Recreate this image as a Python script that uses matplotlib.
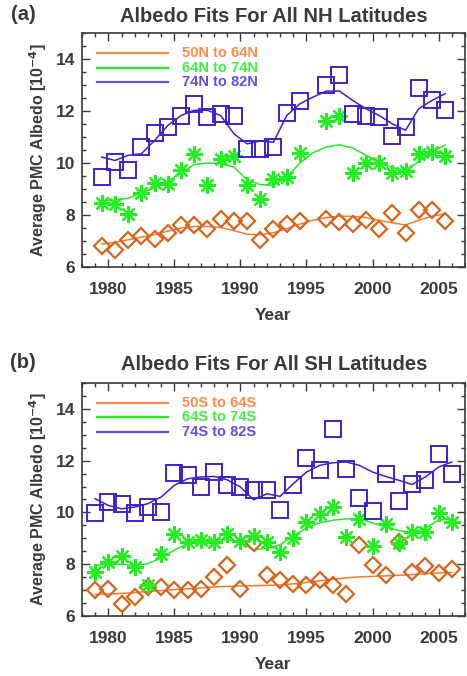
import numpy as np
import matplotlib
matplotlib.use('Agg')
import matplotlib.pyplot as plt
from matplotlib.ticker import MultipleLocator

plt.rcParams['font.family'] = ['Liberation Sans', 'DejaVu Sans']
plt.rcParams['font.weight'] = 'bold'
plt.rcParams['axes.labelweight'] = 'bold'
plt.rcParams['mathtext.default'] = 'bf'

TXT = '#3a3a3a'
ORANGE_M = '#d8651c'
ORANGE_L = '#ff7a2e'
ORANGE_T = '#ff8a4a'
GREEN = '#22ee22'
GREEN_T = '#44ee44'
BLUE = '#3a22cc'
BLUE_T = '#6a4ae8'

### NH data (points plotted mid-year, 1995 missing)
nh_years = [1979.5, 1980.5, 1981.5, 1982.5, 1983.5, 1984.5, 1985.5, 1986.5, 1987.5,
            1988.5, 1989.5, 1990.5, 1991.5, 1992.5, 1993.5, 1994.5, 1996.5, 1997.5,
            1998.5, 1999.5, 2000.5, 2001.5, 2002.5, 2003.5, 2004.5, 2005.5]
nh_low = [6.80, 6.67, 7.05, 7.18, 7.09, 7.31, 7.62, 7.62, 7.46, 7.83, 7.77, 7.77, 7.05,
          7.47, 7.64, 7.77, 7.86, 7.73, 7.67, 7.82, 7.47, 8.08, 7.31, 8.21, 8.21, 7.79]
nh_mid = [8.47, 8.41, 8.05, 8.85, 9.24, 9.21, 9.74, 10.36, 9.14, 10.14, 10.26, 9.14, 8.63,
          9.37, 9.46, 10.38, 11.62, 11.83, 9.63, 10.01, 10.01, 9.63, 9.69, 10.33, 10.42, 10.27]
nh_high = [9.46, 10.05, 9.72, 10.62, 11.15, 11.38, 11.81, 12.28, 11.77, 11.90, 11.81, 10.55,
           10.55, 10.62, 11.94, 12.37, 13.01, 13.37, 11.87, 11.83, 11.77, 11.06, 11.38,
           12.90, 12.44, 12.05]

nh_fit_years = [1979.5, 1980.5, 1981.5, 1982.5, 1983.5, 1984.5, 1985.5, 1986.5, 1987.5,
                1988.5, 1989.5, 1990.5, 1991.5, 1992.5, 1993.5, 1994.5, 1995.5, 1996.5,
                1997.5, 1998.5, 1999.5, 2000.5, 2001.5, 2002.5, 2003.5, 2004.5, 2005.5]
nh_low_fit = [6.88, 6.95, 7.05, 7.15, 7.25, 7.38, 7.50, 7.56, 7.56, 7.52, 7.40, 7.26, 7.24,
              7.32, 7.48, 7.65, 7.80, 7.90, 7.95, 7.95, 7.90, 7.80, 7.70, 7.62, 7.80, 7.95, 8.05]
nh_mid_fit = [8.55, 8.58, 8.65, 8.85, 9.05, 9.30, 9.62, 9.95, 10.00, 9.98, 9.85, 9.35, 9.17,
              9.15, 9.45, 10.00, 10.40, 10.62, 10.70, 10.58, 10.30, 10.00, 9.82, 9.72, 10.05,
              10.42, 10.70]
nh_high_fit = [10.23, 10.10, 10.30, 10.36, 10.87, 11.45, 11.83, 12.03, 12.03, 11.83, 11.13,
               10.74, 10.85, 10.80, 11.83, 12.28, 12.54, 12.77, 12.77, 12.41, 12.09, 11.83,
               11.51, 11.26, 12.09, 12.41, 12.67]

### SH data
sh_years = list(range(1979, 2007))
sh_low = [6.99, 7.03, 6.45, 6.73, 7.12, 7.12, 6.99, 6.99, 7.03, 7.51, 7.96, 7.03, 8.82, 7.57,
          7.38, 7.25, 7.21, 7.38, 7.19, 6.84, 8.73, 7.96, 7.57, 8.86, 7.70, 7.92, 7.66, 7.83]
sh_mid = [7.70, 8.09, 8.31, 7.89, 7.21, 8.41, 9.18, 8.86, 8.95, 8.86, 9.16, 8.90, 9.08, 8.86,
          8.47, 9.03, 9.63, 9.93, 10.21, 9.05, 9.76, 8.69, 9.54, 8.82, 9.25, 9.25, 9.96, 9.63]
sh_high = [9.98, 10.40, 10.34, 9.98, 10.21, 10.02, 11.52, 11.43, 10.98, 11.56, 11.05, 10.98,
           10.88, 10.88, 10.11, 11.05, 12.10, 11.65, 13.24, 11.69, 10.54, 10.06, 11.49, 10.45,
           11.11, 11.26, 12.24, 11.49]
sh_low_fit = [6.84, 6.85, 6.87, 6.90, 6.95, 6.98, 7.02, 7.05, 7.08, 7.12, 7.14, 7.16, 7.17,
              7.18, 7.20, 7.24, 7.30, 7.36, 7.42, 7.47, 7.51, 7.53, 7.55, 7.57, 7.60, 7.63,
              7.66, 7.68]
sh_mid_fit = [7.96, 8.00, 8.00, 7.95, 8.02, 8.25, 8.55, 8.80, 8.90, 8.95, 8.95, 8.85, 8.55,
              8.62, 8.75, 9.10, 9.40, 9.60, 9.70, 9.75, 9.75, 9.60, 9.45, 9.30, 9.22, 9.40,
              9.70, 9.75]
sh_high_fit = [10.53, 10.27, 10.14, 10.21, 10.34, 10.60, 11.05, 11.30, 11.37, 11.39, 11.26,
               10.98, 10.49, 10.72, 10.62, 11.11, 11.56, 11.82, 11.92, 11.95, 11.82, 11.56,
               11.39, 11.24, 11.08, 11.37, 11.75, 11.95]

nh_labels = ['50N to 64N', '64N to 74N', '74N to 82N']
sh_labels = ['50S to 64S', '64S to 74S', '74S to 82S']


def panel(ax, years, low, mid, high, fit_years, low_fit, mid_fit, high_fit, labels):
    ax.plot(fit_years, low_fit, color=ORANGE_L, lw=1.1, zorder=2)
    ax.plot(fit_years, mid_fit, color=GREEN, lw=1.1, zorder=2)
    ax.plot(fit_years, high_fit, color=BLUE, lw=1.1, zorder=2)
    ax.plot(years, low, ls='none', marker='D', ms=8.5, mfc='none', mec=ORANGE_M, mew=1.6, zorder=3)
    ax.plot(years, mid, ls='none', marker=(8, 2, 0), ms=12, mec=GREEN, mew=1.6, zorder=3)
    ax.plot(years, high, ls='none', marker='s', ms=11, mfc='none', mec=BLUE, mew=1.4, zorder=3)

    ax.set_xlim(1978, 2007)
    ax.set_ylim(6, 15)
    ax.xaxis.set_major_locator(MultipleLocator(5))
    ax.xaxis.set_minor_locator(MultipleLocator(1))
    ax.yaxis.set_major_locator(MultipleLocator(2))
    ax.yaxis.set_minor_locator(MultipleLocator(0.5))
    ax.tick_params(which='both', direction='in', top=True, right=True, colors=TXT,
                   labelsize=12.5, width=1.0)
    ax.tick_params(which='major', length=6, pad=11)
    ax.tick_params(which='minor', length=3)
    ax.tick_params(axis='y', pad=5)
    for s in ax.spines.values():
        s.set_color(TXT)
        s.set_linewidth(1.2)
    ax.set_xlabel('Year', fontsize=12.5, color=TXT, labelpad=8)
    ax.set_ylabel('Average PMC Albedo [10$^{-4}$]', fontsize=11.5, color=TXT, labelpad=5)

    # legend drawn like the IDL one
    tcols = [ORANGE_T, GREEN_T, BLUE_T]
    lcols = [ORANGE_T, GREEN, '#6a4ae0']
    for i, (lab, tc, lc) in enumerate(zip(labels, tcols, lcols)):
        yy = 0.915 - i * 0.062
        ax.plot([0.04, 0.225], [yy, yy], transform=ax.transAxes, color=lc, lw=1.6)
        ax.text(0.262, yy, lab, transform=ax.transAxes, color=tc, fontsize=10.5,
                va='center', ha='left')


fig = plt.figure(figsize=(4.67, 6.76), dpi=100)
ax1 = fig.add_axes([0.1756, 0.605, 0.820, 0.346])
ax2 = fig.add_axes([0.1756, 0.0888, 0.820, 0.3446])

panel(ax1, nh_years, nh_low, nh_mid, nh_high, nh_fit_years, nh_low_fit, nh_mid_fit,
      nh_high_fit, nh_labels)
panel(ax2, sh_years, sh_low, sh_mid, sh_high, sh_years, sh_low_fit, sh_mid_fit,
      sh_high_fit, sh_labels)

fig.text(0.587, 1 - 16 / 676, 'Albedo Fits For All NH Latitudes', ha='center', va='center',
         fontsize=14.5, color=TXT)
fig.text(0.587, 1 - 364 / 676, 'Albedo Fits For All SH Latitudes', ha='center', va='center',
         fontsize=14.5, color=TXT)
fig.text(23 / 467, 1 - 14 / 676, '(a)', ha='center', va='center', fontsize=14.5, color=TXT)
fig.text(23 / 467, 1 - 362 / 676, '(b)', ha='center', va='center', fontsize=14.5, color=TXT)

plt.savefig('out.png', dpi=100)
plt.close()
